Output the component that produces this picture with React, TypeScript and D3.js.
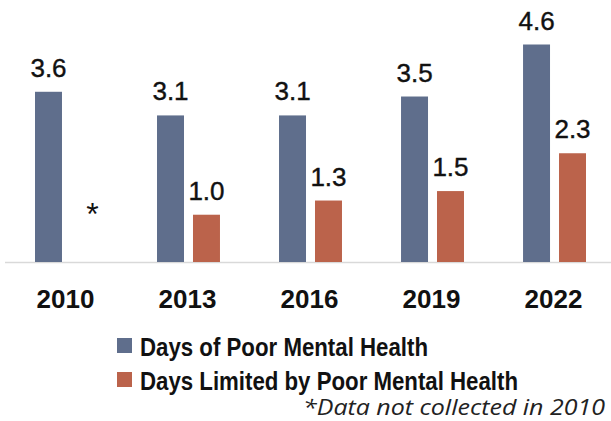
import * as d3 from 'd3';
import React, { ReactElement } from 'react';

const WIDTH = 611;
const HEIGHT = 421;

const years = ['2010', '2013', '2016', '2019', '2022'];
const series = ['Days of Poor Mental Health', 'Days Limited by Poor Mental Health'];
const poorDays = [3.6, 3.1, 3.1, 3.5, 4.6];
const limitedDays: (number | null)[] = [null, 1.0, 1.3, 1.5, 2.3];
const colors = ['#5f6e8c', '#bb634b'];
const footnote = '*Data not collected in 2010';

const BASELINE = 262;
const TOP = 44.5;

const App = (): ReactElement => {
  const x = d3.scaleBand<string>().domain(years).range([35, 586]).paddingInner(0.484).paddingOuter(0);
  const inner = d3.scaleBand<number>().domain([0, 1]).range([0, x.bandwidth()]).paddingInner(0.25);
  const y = d3.scaleLinear().domain([0, 4.6]).range([BASELINE, TOP]);

  const valueSets = [poorDays, limitedDays];

  return (
    <svg
      width={WIDTH}
      height={HEIGHT}
      style={{ position: 'absolute', left: 0, top: 0, background: '#fff' }}
    >
      <line x1={5} x2={WIDTH} y1={BASELINE + 0.5} y2={BASELINE + 0.5} stroke="#d9d9d9" strokeWidth={1.5} />

      {years.map((yr, i) => (
        <g key={yr} transform={`translate(${x(yr)},0)`}>
          {valueSets.map((vals, s) => {
            const v = vals[i];
            const bx = inner(s) as number;
            if (v == null) {
              // missing value marker
              return (
                <text
                  key={s}
                  x={bx + inner.bandwidth() / 2 + 8}
                  y={225}
                  textAnchor="middle"
                  fontFamily="Liberation Sans, Arial, sans-serif"
                  fontSize={32}
                  fill="#111"
                >
                  *
                </text>
              );
            }
            return (
              <g key={s}>
                <rect
                  x={bx}
                  y={y(v)}
                  width={inner.bandwidth()}
                  height={BASELINE - y(v)}
                  fill={colors[s]}
                />
                <text
                  x={bx + inner.bandwidth() / 2}
                  y={y(v) - 15}
                  textAnchor="middle"
                  fontFamily="Liberation Sans, Arial, sans-serif"
                  fontSize={26}
                  stroke="#111"
                  strokeWidth={0.4}
                  fill="#111"
                >
                  {v.toFixed(1)}
                </text>
              </g>
            );
          })}
          <text
            x={x.bandwidth() / 2 - 1}
            y={308}
            textAnchor="middle"
            fontFamily="Liberation Sans, Arial, sans-serif"
            fontWeight="bold"
            fontSize={26}
            fill="#111"
          >
            {yr}
          </text>
        </g>
      ))}

      {series.map((name, s) => (
        <g key={name} transform={`translate(117,${338 + s * 34})`}>
          <rect width={15} height={15} fill={colors[s]} />
          <text
            x={23}
            y={18}
            fontFamily="Liberation Sans Narrow, Arial Narrow, Liberation Sans, sans-serif"
            fontWeight="bold"
            fontSize={25}
            fill="#111"
            textLength={s === 0 ? 288 : 378}
            lengthAdjust="spacingAndGlyphs"
          >
            {name}
          </text>
        </g>
      ))}

      <text
        x={605}
        y={415}
        textAnchor="end"
        fontFamily="Open Sans, sans-serif"
        fontStyle="italic"
        fontSize={21}
        fill="#222"
        textLength={302}
        lengthAdjust="spacingAndGlyphs"
      >
        {footnote}
      </text>
    </svg>
  );
};

export default App;
